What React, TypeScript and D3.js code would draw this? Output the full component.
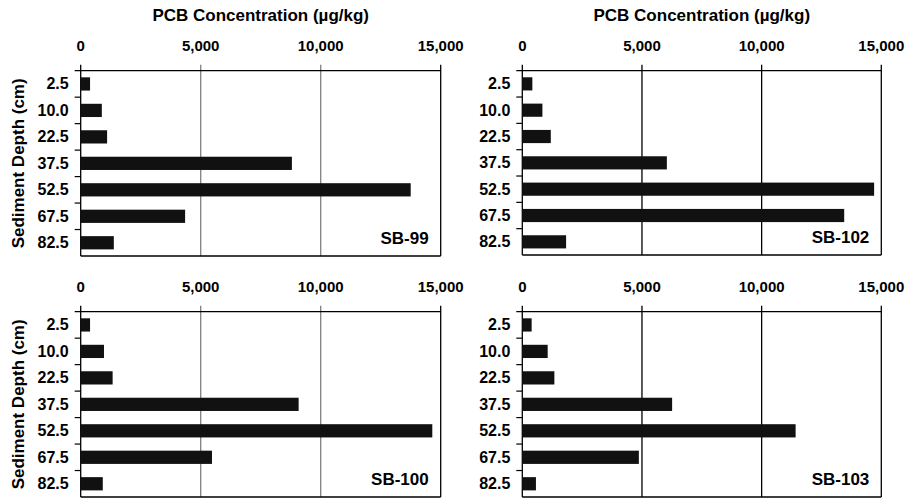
import React from 'react'
import * as d3 from 'd3'

const depths = ['2.5', '10.0', '22.5', '37.5', '52.5', '67.5', '82.5']
const sb99 = [390, 880, 1100, 8800, 13750, 4350, 1380]
const sb102 = [420, 840, 1190, 6040, 14700, 13450, 1830]
const sb100 = [390, 970, 1330, 9080, 14650, 5470, 920]
const sb103 = [390, 1060, 1340, 6260, 11420, 4870, 570]
const xTicks = [0, 5000, 10000, 15000]

const font = '"Liberation Sans", Arial, sans-serif'
const fmt = d3.format(',')

type PanelProps = {
    values: number[]
    name: string
    x0: number
    x1: number
    y0: number
    y1: number
    gridColor: string
    title?: boolean
    yLabel?: boolean
}

const Panel = ({ values, name, x0, x1, y0, y1, gridColor, title, yLabel }: PanelProps) => {
    const x = d3.scaleLinear().domain([0, 15000]).range([x0, x1])
    const y = d3.scaleBand().domain(depths).range([y0, y1]).paddingInner(0.5).paddingOuter(0.25)
    const step = y.step()
    const gap = (step - y.bandwidth()) / 2
    const bounds = depths.map(d => (y(d) as number) - gap).concat([y1])
    return (
        <g>
            {title && (
                <text x={(x0 + x1) / 2} y={20.5} textAnchor="middle" fontSize={17} fontWeight="bold" fontFamily={font}>
                    PCB Concentration (µg/kg)
                </text>
            )}
            {yLabel && (
                <text transform={`translate(24,${(y0 + y1) / 2}) rotate(-90)`} textAnchor="middle" fontSize={17} fontWeight="bold" fontFamily={font}>
                    Sediment Depth (cm)
                </text>
            )}
            {xTicks.map(t => (
                <g key={t}>
                    <line x1={x(t)} x2={x(t)} y1={y0 - 6} y2={y1} stroke={t === 0 || t === 15000 ? '#000' : gridColor} strokeWidth={1.3} />
                    <text x={x(t)} y={y0 - 20} textAnchor="middle" fontSize={15} fontWeight="bold" fontFamily={font}>
                        {fmt(t)}
                    </text>
                </g>
            ))}
            <line x1={x0 - 6} x2={x1} y1={y0} y2={y0} stroke="#000" strokeWidth={1.3} />
            <line x1={x0} x2={x1} y1={y1} y2={y1} stroke="#000" strokeWidth={1.3} />
            {bounds.slice(1, -1).map((b, i) => (
                <line key={i} x1={x0 - 6} x2={x0} y1={b} y2={b} stroke="#000" strokeWidth={1.2} />
            ))}
            {depths.map((d, i) => (
                <g key={d}>
                    <rect x={x0} y={y(d)} width={x(values[i]) - x0} height={y.bandwidth()} fill="#111" />
                    <text x={x0 - 12} y={(y(d) as number) + y.bandwidth() / 2 + 5.5} textAnchor="end" fontSize={16} fontWeight="bold" fontFamily={font}>
                        {d}
                    </text>
                </g>
            ))}
            <text x={x1 - 12} y={y1 - 12} textAnchor="end" fontSize={17} fontWeight="bold" fontFamily={font}>
                {name}
            </text>
        </g>
    )
}

const App = () => {
    return (
        <div style={{ position: 'absolute', left: 0, top: 0 }}>
            <svg width={909} height={499} style={{ display: 'block' }}>
                <rect width={909} height={499} fill="#fff" />
                <Panel values={sb99} name="SB-99" x0={80.7} x1={440.7} y0={70.7} y1={256} gridColor="#808080" title yLabel />
                <Panel values={sb102} name="SB-102" x0={522.3} x1={881.3} y0={70.7} y1={255} gridColor="#000" title />
                <Panel values={sb100} name="SB-100" x0={80.7} x1={440.7} y0={311.7} y1={497} gridColor="#808080" yLabel />
                <Panel values={sb103} name="SB-103" x0={522.3} x1={881.3} y0={311.7} y1={497} gridColor="#000" />
            </svg>
        </div>
    )
}

export default App
